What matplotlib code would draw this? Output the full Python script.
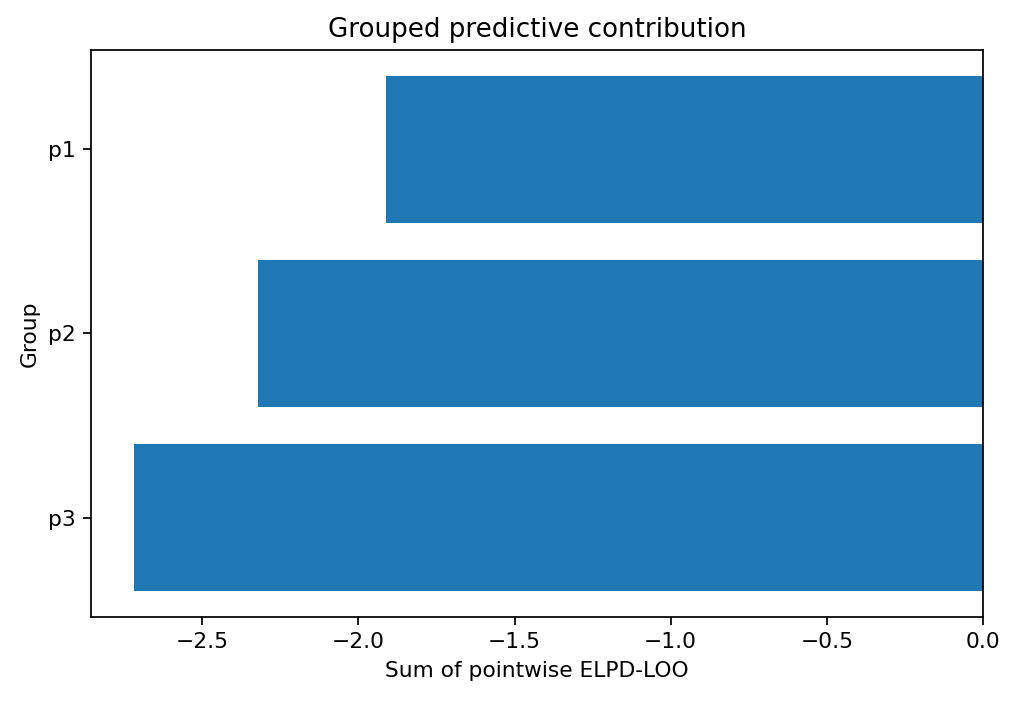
import numpy as np
import matplotlib.pyplot as plt

groups = ["p1", "p2", "p3"]
elpd_sum = [-1.91, -2.32, -2.72]

dpi = 157
fig, ax = plt.subplots(figsize=(1016 / dpi, 702 / dpi), dpi=dpi)
ax.barh(groups, elpd_sum, color="#1f77b4")
ax.invert_yaxis()
ax.set_xlabel("Sum of pointwise ELPD-LOO")
ax.set_ylabel("Group")
ax.set_title("Grouped predictive contribution")

fig.subplots_adjust(left=0.0896, right=0.9675, top=0.9288, bottom=0.1211)
plt.savefig("out.png", dpi=dpi)
